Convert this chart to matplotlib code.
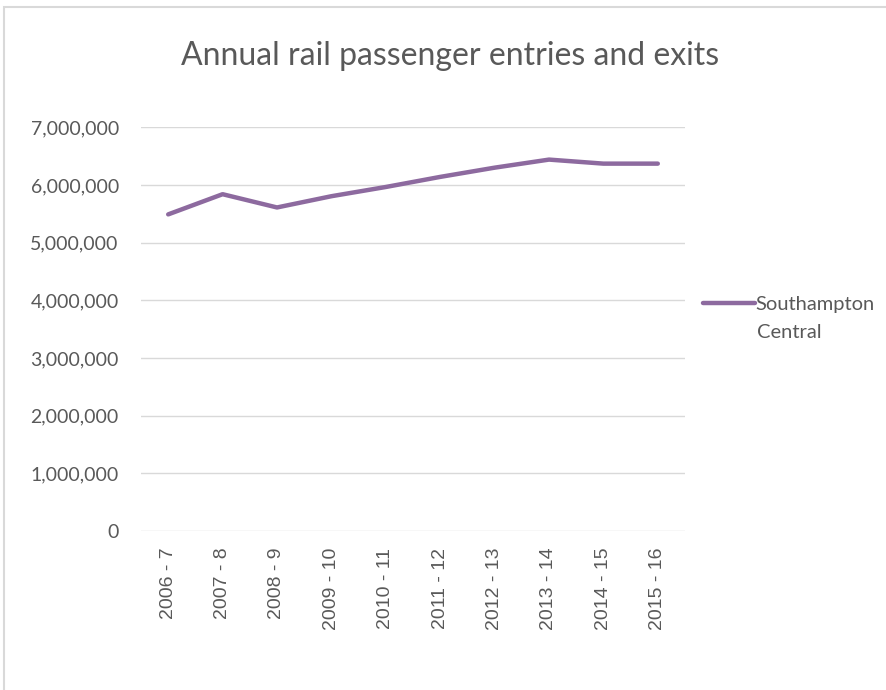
import matplotlib
matplotlib.use('Agg')
import matplotlib.pyplot as plt
from matplotlib.ticker import FuncFormatter, MultipleLocator
from matplotlib.patches import Rectangle

# 연도별 승하차 인원
years = ['2006 - 7', '2007 - 8', '2008 - 9', '2009 - 10', '2010 - 11',
         '2011 - 12', '2012 - 13', '2013 - 14', '2014 - 15', '2015 - 16']
passengers = [5490000, 5840000, 5610000, 5805000, 5965000,
              6140000, 6300000, 6440000, 6370000, 6370000]
series_name = 'Southampton Central'

line_color = '#8d6a9f'
text_color = '#595959'

fig = plt.figure(figsize=(8.87, 6.90), dpi=100)
fig.patches.append(Rectangle((4/887, -0.1), 1.2, 1 - 7/690 + 0.1, transform=fig.transFigure,
                             fill=False, edgecolor='#d9d9d9', lw=1.5))

ax = fig.add_axes([141/887, 159/690, 544/887, (531-127.3)/690])
x = list(range(len(years)))
ax.plot(x, passengers, color=line_color, lw=3.2, solid_capstyle='round',
        solid_joinstyle='round', label='Southampton')

ax.set_xlim(-0.5, len(years) - 0.5)
ax.set_ylim(0, 7000000)
ax.yaxis.set_major_locator(MultipleLocator(1000000))
ax.yaxis.set_major_formatter(FuncFormatter(lambda v, p: '{:,.0f}'.format(v)))
ax.grid(axis='y', color='#d9d9d9', lw=1)
ax.set_axisbelow(True)
for s in ax.spines.values():
    s.set_visible(False)
ax.set_xticks(x)
ax.set_xticklabels(years, rotation=90, family='Liberation Sans', fontsize=14, color=text_color)
ax.tick_params(axis='both', length=0)
ax.tick_params(axis='x', pad=12)
ax.tick_params(axis='y', pad=16)
for t in ax.get_yticklabels():
    t.set_family('Lato')
    t.set_fontsize(14)
    t.set_color(text_color)

fig.text(450/887, 1 - 56/690, 'Annual rail passenger entries and exits', ha='center', va='center',
         family='Lato', fontsize=23, color=text_color)

leg = fig.legend(loc='center left', bbox_to_anchor=(703/887, 1 - 304/690), frameon=False,
                 handlelength=2.6, handletextpad=0.0, borderpad=0, borderaxespad=0,
                 prop={'family': 'Lato', 'size': 14.5})
for t in leg.get_texts():
    t.set_color(text_color)
fig.text(757/887, 1 - 332/690, series_name.split()[1], ha='left', va='center',
         family='Lato', fontsize=14.5, color=text_color)

fig.savefig('out.png', dpi=100)
